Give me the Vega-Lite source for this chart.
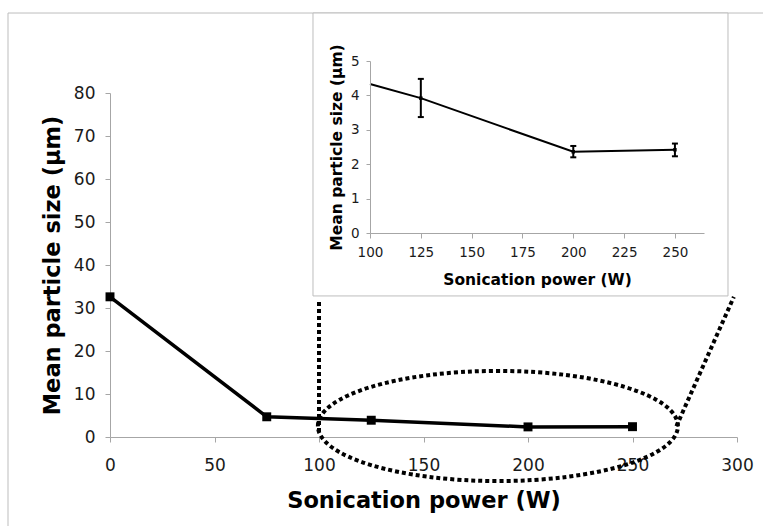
{
  "$schema": "https://vega.github.io/schema/vega-lite/v6.json",
  "width": 627,
  "height": 344,
  "autosize": {"type": "none"},
  "padding": {"left": 110, "top": 93, "right": 26, "bottom": 89},
  "background": "white",
  "config": {
    "view": {"stroke": null},
    "font": "DejaVu Sans",
    "axis": {
      "grid": false,
      "labelFlush": false,
      "domainColor": "#a6a6a6",
      "tickColor": "#a6a6a6",
      "labelColor": "#1a1a1a",
      "titleColor": "#000000",
      "labelFont": "DejaVu Sans",
      "titleFont": "DejaVu Sans",
      "titleFontWeight": "bold"
    }
  },
  "datasets": {
    "main": [
      {"x": 0, "y": 32.6},
      {"x": 75, "y": 4.7},
      {"x": 125, "y": 3.9},
      {"x": 200, "y": 2.35},
      {"x": 250, "y": 2.4}
    ],
    "frame": [{"x": -48.8, "x2": 400, "y": 98.6, "y2": -40}],
    "guides": [
      {"x": 100, "y": 31.4, "x2": 100, "y2": 0.5},
      {"x": 271, "y": 2.5, "x2": 298.5, "y2": 32.6}
    ],
    "ellipse": [{"x": 185.6, "y": 2.56}],
    "insetBox": [{"x": 71.96, "x2": 276.1, "y": 6.395, "y2": -1.83}],
    "inset": [
      {"x": 100, "y": 4.33},
      {"x": 125, "y": 3.92},
      {"x": 200, "y": 2.36},
      {"x": 250, "y": 2.42}
    ],
    "insetErr": [
      {"x": 125, "y": 3.92, "lo": 3.37, "hi": 4.48},
      {"x": 200, "y": 2.36, "lo": 2.2, "hi": 2.53},
      {"x": 250, "y": 2.42, "lo": 2.23, "hi": 2.6}
    ]
  },
  "layer": [
    {
      "layer": [
        {
          "data": {"name": "frame"},
          "mark": {"type": "rect", "fill": "white", "fillOpacity": 0, "stroke": "#bdbdbd", "strokeWidth": 1},
          "encoding": {
            "x": {
              "field": "x", "type": "quantitative",
              "scale": {"domain": [0, 300], "nice": false, "zero": false},
              "axis": {
                "title": "Sonication power (W)",
                "values": [0, 50, 100, 150, 200, 250, 300],
                "labelFontSize": 17,
                "titleFontSize": 22.5,
                "tickSize": 5,
                "labelPadding": 15,
                "titlePadding": 16
              }
            },
            "x2": {"field": "x2"},
            "y": {
              "field": "y", "type": "quantitative",
              "scale": {"domain": [0, 80], "nice": false, "zero": false},
              "axis": {
                "title": "Mean particle size (μm)",
                "values": [0, 10, 20, 30, 40, 50, 60, 70, 80],
                "labelFontSize": 17,
                "titleFontSize": 22.5,
                "tickSize": 5,
                "labelPadding": 10,
                "titlePadding": 9
              }
            },
            "y2": {"field": "y2"}
          }
        },
        {
          "data": {"name": "main"},
          "mark": {"type": "line", "color": "black", "strokeWidth": 3.5},
          "encoding": {
            "x": {"field": "x", "type": "quantitative"},
            "y": {"field": "y", "type": "quantitative"}
          }
        },
        {
          "data": {"name": "main"},
          "mark": {"type": "point", "shape": "square", "filled": true, "color": "black", "size": 80, "opacity": 1},
          "encoding": {
            "x": {"field": "x", "type": "quantitative"},
            "y": {"field": "y", "type": "quantitative"}
          }
        },
        {
          "data": {"name": "guides"},
          "mark": {"type": "rule", "color": "black", "strokeWidth": 4, "strokeDash": [4, 3]},
          "encoding": {
            "x": {"field": "x", "type": "quantitative"},
            "y": {"field": "y", "type": "quantitative"},
            "x2": {"field": "x2"},
            "y2": {"field": "y2"}
          }
        },
        {
          "data": {"name": "ellipse"},
          "mark": {
            "type": "point",
            "shape": "M -1 0 A 1 0.306 0 1 1 1 0 A 1 0.306 0 1 1 -1 0 Z",
            "filled": false,
            "fill": null,
            "stroke": "black",
            "strokeWidth": 4,
            "strokeDash": [4, 3],
            "size": 129600,
            "opacity": 1
          },
          "encoding": {
            "x": {"field": "x", "type": "quantitative"},
            "y": {"field": "y", "type": "quantitative"}
          }
        }
      ]
    },
    {
      "layer": [
        {
          "data": {"name": "insetBox"},
          "mark": {"type": "rect", "fill": "white", "stroke": "#bdbdbd", "strokeWidth": 1},
          "encoding": {
            "x": {
              "field": "x", "type": "quantitative",
              "scale": {"domain": [100, 264.3], "range": [260, 594], "nice": false, "zero": false},
              "axis": {
                "orient": "bottom",
                "offset": -204,
                "zindex": 1,
                "title": "Sonication power (W)",
                "values": [100, 125, 150, 175, 200, 225, 250],
                "labelFontSize": 13.5,
                "titleFontSize": 15.5,
                "tickSize": 5,
                "labelPadding": 7,
                "titlePadding": 14
              }
            },
            "x2": {"field": "x2"},
            "y": {
              "field": "y", "type": "quantitative",
              "scale": {"domain": [0, 5], "range": [140, -32], "nice": false, "zero": false},
              "axis": {
                "orient": "left",
                "offset": -260,
                "zindex": 1,
                "title": "Mean particle size (μm)",
                "values": [0, 1, 2, 3, 4, 5],
                "format": "d",
                "labelFontSize": 13.5,
                "titleFontSize": 15.5,
                "tickSize": 4,
                "labelPadding": 7,
                "titlePadding": 6
              }
            },
            "y2": {"field": "y2"}
          }
        },
        {
          "data": {"name": "inset"},
          "mark": {"type": "line", "color": "black", "strokeWidth": 2},
          "encoding": {
            "x": {"field": "x", "type": "quantitative"},
            "y": {"field": "y", "type": "quantitative"}
          }
        },
        {
          "data": {"name": "insetErr"},
          "mark": {"type": "rule", "color": "black", "strokeWidth": 2},
          "encoding": {
            "x": {"field": "x", "type": "quantitative"},
            "y": {"field": "lo", "type": "quantitative"},
            "y2": {"field": "hi"}
          }
        },
        {
          "data": {"name": "insetErr"},
          "mark": {"type": "tick", "orient": "horizontal", "color": "black", "size": 6, "thickness": 2, "opacity": 1},
          "encoding": {
            "x": {"field": "x", "type": "quantitative"},
            "y": {"field": "lo", "type": "quantitative"}
          }
        },
        {
          "data": {"name": "insetErr"},
          "mark": {"type": "tick", "orient": "horizontal", "color": "black", "size": 6, "thickness": 2, "opacity": 1},
          "encoding": {
            "x": {"field": "x", "type": "quantitative"},
            "y": {"field": "hi", "type": "quantitative"}
          }
        },
        {
          "data": {"name": "insetErr"},
          "mark": {"type": "point", "shape": "square", "filled": true, "color": "black", "size": 12, "opacity": 1},
          "encoding": {
            "x": {"field": "x", "type": "quantitative"},
            "y": {"field": "y", "type": "quantitative"}
          }
        }
      ]
    }
  ],
  "resolve": {
    "scale": {"x": "independent", "y": "independent"},
    "axis": {"x": "independent", "y": "independent"}
  }
}
